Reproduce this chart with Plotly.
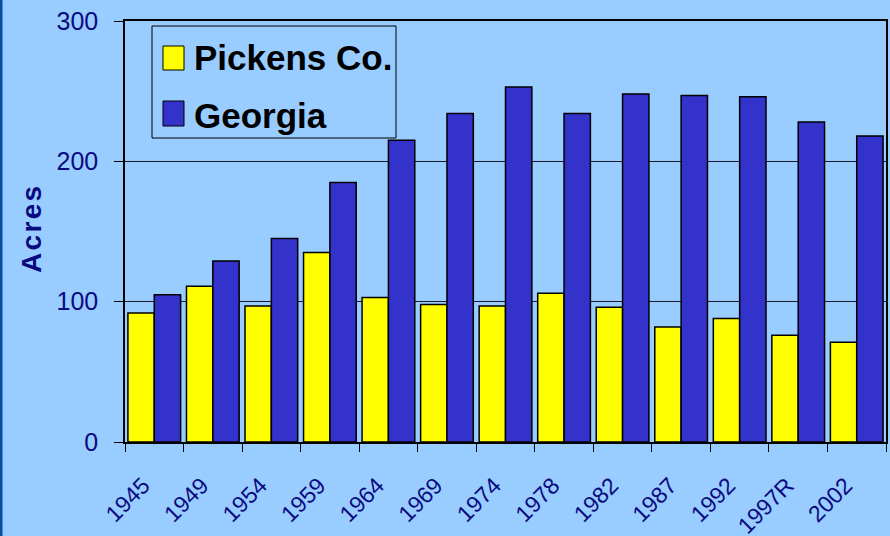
import plotly.graph_objects as go

years = ["1945", "1949", "1954", "1959", "1964", "1969", "1974", "1978",
         "1982", "1987", "1992", "1997R", "2002"]
pickens = [92, 111, 97, 135, 103, 98, 97, 106, 96, 82, 88, 76, 71]
georgia = [105, 129, 145, 185, 215, 234, 253, 234, 248, 247, 246, 228, 218]
series_names = ["Pickens Co.", "Georgia"]
y_ticks = [0, 100, 200, 300]

BG = "#99ccff"
NAVY = "#0a0a80"
YELLOW = "#ffff00"
BLUE = "#3333cc"

W, H = 890, 536
L, R, T, B = 125, 4, 21, 94
PW, PH = W - L - R, H - T - B


def px(x):
    return (x - L) / PW


def py(y):
    return (H - B - y) / PH


fig = go.Figure()
fig.add_trace(go.Bar(x=years, y=pickens, name=series_names[0], marker=dict(color=YELLOW, line=dict(color="black", width=1.5)), showlegend=False))
fig.add_trace(go.Bar(x=years, y=georgia, name=series_names[1], marker=dict(color=BLUE, line=dict(color="black", width=1.5)), showlegend=False))

sans = "Liberation Sans, Arial, sans-serif"

shapes = [
    # left dark frame strip
    dict(type="rect", xref="paper", yref="paper", x0=px(0), x1=px(2.5), y0=py(H), y1=py(0),
         fillcolor="#0d4d9e", line=dict(width=0), layer="above"),
    # legend box
    dict(type="rect", xref="paper", yref="paper", x0=px(152), x1=px(396), y0=py(138), y1=py(26),
         fillcolor=BG, line=dict(color="black", width=1), layer="above"),
    dict(type="rect", xref="paper", yref="paper", x0=px(163), x1=px(184), y0=py(70), y1=py(46),
         fillcolor=YELLOW, line=dict(color="black", width=1), layer="above"),
    dict(type="rect", xref="paper", yref="paper", x0=px(163), x1=px(184), y0=py(126), y1=py(101),
         fillcolor=BLUE, line=dict(color="black", width=1), layer="above"),
]

annotations = [
    dict(text=series_names[0], xref="paper", yref="paper", x=px(192), y=py(58), xanchor="left", yanchor="middle",
         showarrow=False, font=dict(family=sans, size=35, color="black", weight="bold")),
    dict(text=series_names[1], xref="paper", yref="paper", x=px(192), y=py(116), xanchor="left", yanchor="middle",
         showarrow=False, font=dict(family=sans, size=35, color="black", weight="bold")),
    dict(text="A\u200ac\u200ar\u200ae\u200as", xref="paper", yref="paper", x=px(31), y=py(230), xanchor="center", yanchor="middle",
         textangle=-90, showarrow=False, font=dict(family=sans, size=28, color=NAVY, weight="bold")),
]

fig.update_layout(
    width=W, height=H,
    margin=dict(l=L, r=R, t=T, b=B, autoexpand=False),
    paper_bgcolor=BG, plot_bgcolor=BG,
    barmode="group", bargap=0.1, bargroupgap=0,
    shapes=shapes, annotations=annotations,
    showlegend=False,
)
fig.update_xaxes(
    type="category", tickson="boundaries", ticks="outside", ticklen=8, tickcolor="black", tickwidth=1,
    showline=True, linecolor="black", linewidth=2, mirror=True, showgrid=False,
    tickangle=-45, ticklabelstandoff=19, ticklabelshift=-11,
    tickfont=dict(family=sans, size=23, color=NAVY),
)
fig.update_yaxes(
    range=[0, 300], tickvals=y_ticks, ticks="outside", ticklen=9, tickcolor="black", tickwidth=1,
    showline=True, linecolor="black", linewidth=1.5, mirror=True,
    showgrid=True, gridcolor="#1a1a2a", gridwidth=1, zeroline=False,
    ticklabelstandoff=11,
    tickfont=dict(family=sans, size=25, color=NAVY),
)

fig.write_html("out.html", config={"displayModeBar": False},
               post_script="document.body.style.margin='0';document.body.style.overflow='hidden';")
